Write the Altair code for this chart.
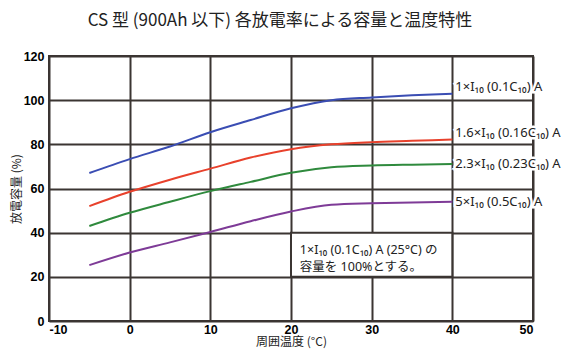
import altair as alt
import pandas as pd

temps = [-5, 0, 5, 10, 15, 20, 25, 30, 35, 40]
cap_01 = [67, 73.3, 79, 85.5, 91, 96.3, 100, 101.2, 102.2, 102.9]
cap_016 = [52, 58.5, 64, 69, 74, 77.8, 80, 81, 81.6, 82.2]
cap_023 = [43, 49, 54, 58.8, 63, 67.1, 69.6, 70.4, 70.8, 71.1]
cap_05 = [25.3, 31, 35.6, 40.3, 45.2, 49.6, 52.6, 53.3, 53.7, 54]

series_names = ["1×I₁₀ (0.1C₁₀) A", "1.6×I₁₀ (0.16C₁₀) A", "2.3×I₁₀ (0.23C₁₀) A", "5×I₁₀ (0.5C₁₀) A"]
series_colors = ["#3a4db3", "#e8412c", "#2f8a3d", "#7e3b97"]
label_y = [105.9, 85.2, 71.1, 54]
label_x = [40, 40, 40, 40]

note_lines = ["1×I₁₀ (0.1C₁₀) A (25°C) の", "容量を 100%とする。"]
note_x = [21.1, 21.1]
note_y = [32.3, 24.6]
note_box = {"x": [20], "x2": [40], "y": [20], "y2": [40]}

x_ticks = [-10, 0, 10, 20, 30, 40, 50]
y_ticks = [0, 20, 40, 60, 80, 100, 120]

title_text = "CS 型 (900Ah 以下) 各放電率による容量と温度特性"
x_title = "周囲温度 (°C)"
y_title = "放電容量 (%)"

JP = "Noto Sans CJK JP"
MIX = "Noto Sans, Noto Sans CJK JP"
GRID = "#3b3532"
PLOT_H = 265

rows = []
for name, vals in zip(series_names, [cap_01, cap_016, cap_023, cap_05]):
    for t, v in zip(temps, vals):
        rows.append({"temp": t, "cap": v, "series": name})
df = pd.DataFrame(rows)

lab_df = pd.DataFrame({"x": label_x, "y": label_y, "text": series_names})
note_df = pd.DataFrame({"x": note_x, "y": note_y, "text": note_lines})
box_df = pd.DataFrame(note_box)

xscale = alt.Scale(domain=[-10, 50], nice=False, zero=False)
yscale = alt.Scale(domain=[0, 120], nice=False)
cscale = alt.Scale(domain=series_names, range=series_colors)

xaxis = alt.Axis(values=x_ticks, title=x_title, labelExpr="'' + datum.value")
yaxis = alt.Axis(values=y_ticks, title=y_title, labelExpr="'' + datum.value",
                 titleX=-33, titleY=PLOT_H / 2, titleBaseline="middle", titleAngle=270)

lines = alt.Chart(df).mark_line(strokeWidth=2, interpolate="monotone").encode(
    x=alt.X("temp:Q", scale=xscale, axis=xaxis),
    y=alt.Y("cap:Q", scale=yscale, axis=yaxis),
    color=alt.Color("series:N", scale=cscale, legend=None),
)

box = alt.Chart(box_df).mark_rect(fill="white", stroke=GRID, strokeWidth=2).encode(
    x="x:Q", x2="x2:Q", y="y:Q", y2="y2:Q"
)

label_halo = alt.Chart(lab_df).mark_text(
    align="left", baseline="middle", dx=3, font=MIX, fontSize=13,
    color="white", stroke="white", strokeWidth=5
).encode(x="x:Q", y="y:Q", text="text:N")

labels = alt.Chart(lab_df).mark_text(
    align="left", baseline="middle", dx=3, font=MIX, fontSize=13, color="#222222"
).encode(x="x:Q", y="y:Q", text="text:N")

notes = alt.Chart(note_df).mark_text(
    align="left", baseline="middle", font=MIX, fontSize=12.5, color="#222222"
).encode(x="x:Q", y="y:Q", text="text:N")

chart = alt.layer(lines, box, notes, label_halo, labels).properties(
    width=484,
    height=PLOT_H,
    title=alt.TitleParams(title_text, font=JP, fontSize=17, fontWeight="normal",
                          color="#222222", anchor="middle", offset=20, dx=-11),
    autosize=alt.AutoSizeParams(type="none"),
    padding={"left": 41, "top": 48, "right": 30, "bottom": 31},
).configure_view(
    stroke=GRID, strokeWidth=2
).configure_axis(
    grid=True, gridColor=GRID, gridWidth=2, gridOpacity=1,
    domain=False, ticks=False,
    labelFont="Liberation Sans", labelFontWeight="bold", labelFontSize=12.5, labelColor="#000000",
    titleFont=JP, titleFontWeight="normal", titleFontSize=12, titleColor="#222222",
).configure_axisX(
    labelPadding=2, titlePadding=1,
).configure_axisY(
    labelPadding=5,
)

chart.save("out.html", embed_options={"renderer": "svg", "actions": False})
